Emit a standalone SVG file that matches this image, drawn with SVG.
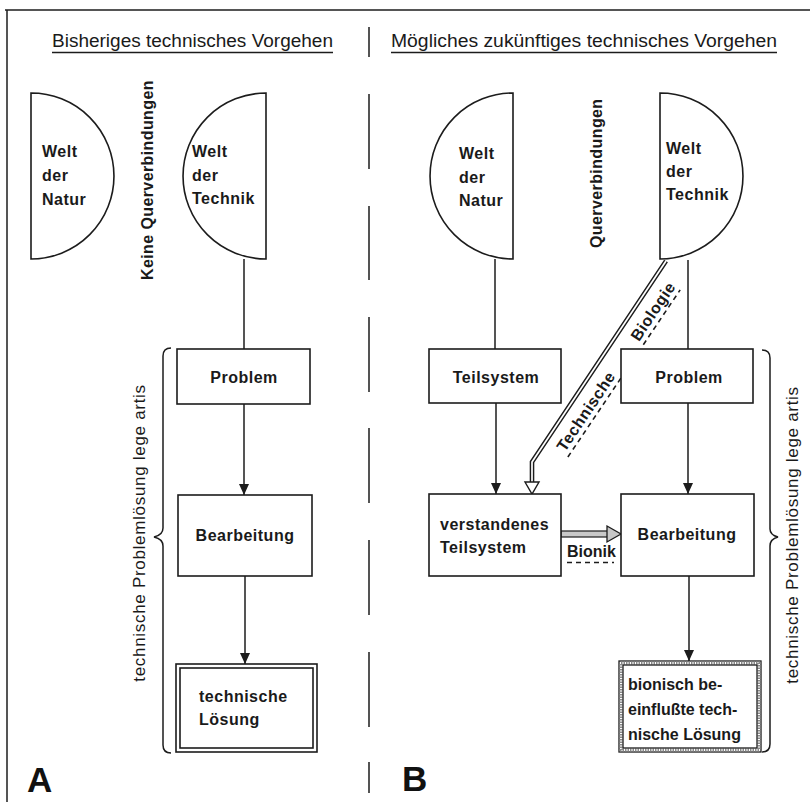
<svg xmlns="http://www.w3.org/2000/svg" width="810" height="802" viewBox="0 0 810 802">
<defs>
<style>
.ln{stroke:#1c1c1c;stroke-width:1.5;fill:none}
.bx{stroke:#1c1c1c;stroke-width:1.6;fill:#fff}
.hc{stroke:#1c1c1c;stroke-width:1.6;fill:#fff}
.t{font-family:"Liberation Sans",Arial,sans-serif;font-weight:bold;font-size:16px;letter-spacing:0.5px;fill:#1a1a1a}
.tb{font-family:"Liberation Sans",Arial,sans-serif;font-weight:bold;font-size:16px;fill:#1a1a1a}
.vt{font-family:"Liberation Sans",Arial,sans-serif;font-size:17px;letter-spacing:0.7px;fill:#1a1a1a}
.vb{font-family:"Liberation Sans",Arial,sans-serif;font-weight:bold;font-size:16px;letter-spacing:0.4px;fill:#1a1a1a}
.hd{font-family:"Liberation Sans",Arial,sans-serif;font-size:18px;fill:#1a1a1a}
.big{font-family:"Liberation Sans",Arial,sans-serif;font-weight:bold;font-size:35px;fill:#111}
.dash{stroke:#1c1c1c;stroke-width:1.6;stroke-dasharray:5 4;fill:none}
</style>
<marker id="ah" viewBox="0 0 11 10" refX="11" refY="5" markerWidth="11" markerHeight="10" markerUnits="userSpaceOnUse" orient="auto">
<path d="M0,0 L11,5 L0,10 Z" fill="#1c1c1c"/>
</marker>
</defs>
<rect x="0" y="0" width="810" height="802" fill="#fff"/>

<g id="frame">
<line x1="5" y1="10" x2="810" y2="10" class="ln" stroke-width="1.8"/>
<line x1="7" y1="10" x2="7" y2="802" class="ln" stroke-width="1.8"/>
<path class="ln" d="M369,27V57 M369,94V169 M369,206V280 M369,317V392 M369,428V503 M369,540V615 M369,652V727 M369,762V793"/>
</g>

<g id="headers">
<text x="52" y="47" class="hd" textLength="281" lengthAdjust="spacingAndGlyphs">Bisheriges technisches Vorgehen</text>
<line x1="52" y1="52.5" x2="333" y2="52.5" class="ln" stroke="#555"/>
<text x="391" y="47" class="hd" textLength="386" lengthAdjust="spacingAndGlyphs">Mögliches zukünftiges technisches Vorgehen</text>
<line x1="391" y1="52.5" x2="777" y2="52.5" class="ln" stroke="#555"/>
</g>

<g id="connectors">
<line x1="244" y1="259" x2="244" y2="349" class="ln"/>
<line x1="244" y1="404" x2="244" y2="495" class="ln" marker-end="url(#ah)"/>
<line x1="245" y1="576" x2="245" y2="664" class="ln" marker-end="url(#ah)"/>
<line x1="495" y1="259" x2="495" y2="349" class="ln"/>
<line x1="496" y1="403" x2="496" y2="494" class="ln" marker-end="url(#ah)"/>
<line x1="688" y1="260" x2="688" y2="349" class="ln"/>
<line x1="688" y1="403" x2="688" y2="494" class="ln" marker-end="url(#ah)"/>
<line x1="689" y1="576" x2="689" y2="661" class="ln" marker-end="url(#ah)"/>
<g id="technische-biologie">
<path d="M666,261 L532,462 L532,483" fill="none" stroke="#1c1c1c" stroke-width="4.6" stroke-linejoin="miter"/>
<path d="M666,261 L532,462 L532,483" fill="none" stroke="#fff" stroke-width="1.7" stroke-linejoin="miter"/>
<polygon points="525,482 539,482 532,494" fill="#fff" stroke="#1c1c1c" stroke-width="1.4"/>
<g transform="translate(657.6,314.5) rotate(-56.1)">
<text x="0" y="0" class="t" text-anchor="middle">Biologie</text>
<line x1="-33" y1="5" x2="33" y2="5" class="dash"/>
</g>
<g transform="translate(590.5,414.4) rotate(-56.1)">
<text x="0" y="0" class="t" text-anchor="middle">Technische</text>
<line x1="-48" y1="5" x2="48" y2="5" class="dash"/>
</g>
</g>
<g id="bionik">
<rect x="561" y="531" width="47" height="6" fill="#c8c8c8" stroke="#1c1c1c" stroke-width="1.2"/>
<polygon points="607,526 621,534 607,542" fill="#c8c8c8" stroke="#1c1c1c" stroke-width="1.3"/>
<text x="567" y="557" class="tb">Bionik</text>
<line x1="567" y1="562.5" x2="614" y2="562.5" class="dash" stroke-width="2" stroke-dasharray="6 4"/>
</g>
</g>

<g id="A-natur">
<path class="hc" d="M31,93 A83,83 0 0 1 31,259 Z"/>
<text class="t"><tspan x="42" y="157">Welt</tspan><tspan x="42" y="181">der</tspan><tspan x="42" y="205">Natur</tspan></text>
</g>
<g id="A-technik">
<path class="hc" d="M266,93 A83,83 0 0 0 266,259 Z"/>
<text class="t"><tspan x="192" y="157">Welt</tspan><tspan x="192" y="181">der</tspan><tspan x="192" y="204">Technik</tspan></text>
</g>
<text class="vb" transform="translate(153,280) rotate(-90)">Keine Querverbindungen</text>

<g id="A-problem">
<rect class="bx" x="177" y="349" width="133" height="55"/>
<text class="t" x="244" y="383" text-anchor="middle">Problem</text>
</g>
<g id="A-bearbeitung">
<rect class="bx" x="178" y="495" width="134" height="81"/>
<text class="t" x="245" y="541" text-anchor="middle">Bearbeitung</text>
</g>
<g id="A-loesung">
<rect class="bx" x="176" y="664" width="141" height="88"/>
<rect class="bx" x="180" y="668" width="133" height="80"/>
<text class="t"><tspan x="199" y="702">technische</tspan><tspan x="199" y="725">Lösung</tspan></text>
</g>
<g id="A-brace">
<path class="ln" d="M171,348 Q163,348 163,356 L163,528 Q163,535 154,537 Q163,539 163,546 L163,745 Q163,753 171,753"/>
<text class="vt" text-anchor="middle" transform="translate(145,533) rotate(-90)">technische Problemlösung lege artis</text>
</g>
<text class="big" x="27" y="792">A</text>

<g id="B-natur">
<path class="hc" d="M513,93 A83,83 0 0 0 513,259 Z"/>
<text class="t"><tspan x="459" y="159">Welt</tspan><tspan x="459" y="183">der</tspan><tspan x="459" y="206">Natur</tspan></text>
</g>
<g id="B-technik">
<path class="hc" d="M660,93 A83,83 0 0 1 660,259 Z"/>
<text class="t"><tspan x="666" y="154">Welt</tspan><tspan x="666" y="177">der</tspan><tspan x="666" y="200">Technik</tspan></text>
</g>
<text class="vb" transform="translate(602,248) rotate(-90)">Querverbindungen</text>

<g id="B-teilsystem">
<rect class="bx" x="429" y="349" width="132" height="54"/>
<text class="t" x="496" y="383" text-anchor="middle">Teilsystem</text>
</g>
<g id="B-problem">
<rect class="bx" x="621" y="349" width="132" height="54"/>
<text class="t" x="689" y="383" text-anchor="middle">Problem</text>
</g>
<g id="B-verstanden">
<rect class="bx" x="429" y="494" width="132" height="82"/>
<text class="t"><tspan x="440" y="530">verstandenes</tspan><tspan x="440" y="553">Teilsystem</tspan></text>
</g>
<g id="B-bearbeitung">
<rect class="bx" x="621" y="494" width="133" height="82"/>
<text class="t" x="687" y="540" text-anchor="middle">Bearbeitung</text>
</g>
<g id="B-loesung">
<rect x="619" y="661" width="142" height="91" fill="#fff" stroke="#1c1c1c" stroke-width="1.3"/>
<rect x="621" y="663" width="138" height="87" fill="none" stroke="#8a8a8a" stroke-width="3" stroke-dasharray="1.5 1"/>
<rect x="623" y="665" width="134" height="83" fill="#fff" stroke="#1c1c1c" stroke-width="1.3"/>
<text class="tb"><tspan x="628" y="690">bionisch be-</tspan><tspan x="628" y="715">einflußte tech-</tspan><tspan x="628" y="740">nische Lösung</tspan></text>
</g>
<g id="B-brace">
<path class="ln" d="M762,350 Q770,350 770,358 L770,529 Q770,535 778,537 Q770,539 770,546 L770,744 Q770,752 762,752"/>
<text class="vt" text-anchor="middle" transform="translate(798,535) rotate(-90)">technische Problemlösung lege artis</text>
</g>
<text class="big" x="402" y="791">B</text>
</svg>
